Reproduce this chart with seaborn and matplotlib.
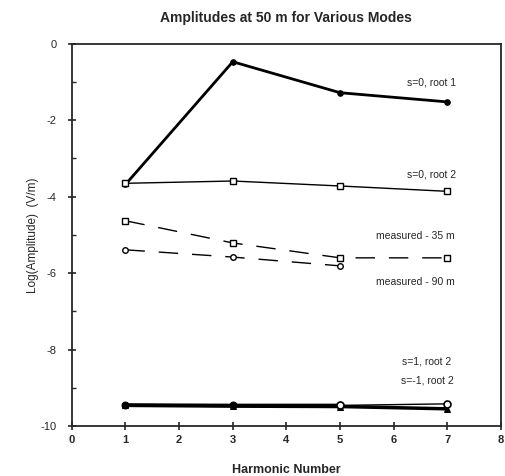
import numpy as np
import pandas as pd
import matplotlib
matplotlib.use("Agg")
import matplotlib.pyplot as plt
import seaborn as sns

sns.set_style("ticks")
plt.rcParams['font.family'] = ['Liberation Sans', 'DejaVu Sans']
plt.rc('xtick', labelsize=8.)
plt.rc('ytick', labelsize=8.)

# harmonic numbers
harm = [1, 3, 5, 7]
harm_90 = [1, 3, 5]

# log amplitudes (V/m)
s0_root1 = [-3.68, -0.47, -1.28, -1.52]
s0_root2 = [-3.65, -3.59, -3.72, -3.86]
meas_35 = [-4.63, -5.21, -5.60, -5.60]
meas_90 = [-5.39, -5.58, -5.81]
s1_root2 = [-9.45, -9.46, -9.46, -9.42]
sm1_root2 = [-9.46, -9.48, -9.49, -9.55]

labels = ["s=0, root 1", "s=0, root 2", "measured - 35 m", "measured - 90 m",
          "s=1, root 2", "s=-1, root 2"]
label_x = [6.7, 6.7, 6.4, 6.4, 6.62, 6.62]
label_y = [-1.0, -3.43, -5.03, -6.23, -8.32, -8.82]

fig = plt.figure(figsize=[5.06, 4.76], dpi=100)
ax = fig.add_axes([0.142, 0.105, 0.848, 0.803])

sns.lineplot(x=harm, y=s0_root1, ax=ax, color='k', lw=2.0, marker='o', ms=4,
             mfc='k', mec='k')
sns.lineplot(x=harm, y=s0_root2, ax=ax, color='k', lw=1.0, marker='s', ms=4,
             mfc='white', mec='k', mew=1.0)
sns.lineplot(x=harm, y=meas_35, ax=ax, color='k', lw=1.0, marker='s', ms=4,
             mfc='white', mec='k', mew=1.0, dashes=(14, 10))
sns.lineplot(x=harm_90, y=meas_90, ax=ax, color='k', lw=1.0, marker='o', ms=4,
             mfc='white', mec='k', mew=1.0, dashes=(14, 10))
sns.lineplot(x=harm, y=sm1_root2, ax=ax, color='k', lw=2.5, marker='^', ms=5,
             mfc='k', mec='k')
sns.lineplot(x=harm[:3], y=s1_root2[:3], ax=ax, color='k', lw=2.5, marker='o',
             ms=5, mfc='k', mec='k')
sns.lineplot(x=harm[2:], y=s1_root2[2:], ax=ax, color='k', lw=1.0, marker='o',
             ms=5, mfc='white', mec='k', mew=1.2)

for lab, tx, ty in zip(labels, label_x, label_y):
    ax.text(tx, ty, lab, fontsize=7.5, ha='center', va='center')

ax.set_xlim(0, 8)
ax.set_ylim(-10, 0)
ax.set_xticks(range(0, 9))
ax.set_yticks(range(-10, 1, 2))
ax.set_yticklabels(['-10', '-8', '-6', '-4', '-2', '0'])
ax.set_yticks(range(-9, 0, 2), minor=True)
ax.tick_params(axis='both', which='major', direction='inout', length=6, width=1.2)
ax.tick_params(axis='y', which='major', pad=8)
ax.tick_params(axis='y', which='minor', direction='in', length=3, width=1.0)
for lab in ax.get_xticklabels():
    lab.set_fontweight('bold')
for sp in ax.spines.values():
    sp.set_linewidth(1.3)

ax.set_xlabel('Harmonic Number', fontsize=9, fontweight='bold', labelpad=14)
ax.set_ylabel('Log(Amplitude)  (V/m)', fontsize=8.5, labelpad=1)
ax.set_title('Amplitudes at 50 m for Various Modes', fontsize=10,
             fontweight='bold', pad=16)

fig.savefig('out.png', dpi=100)
